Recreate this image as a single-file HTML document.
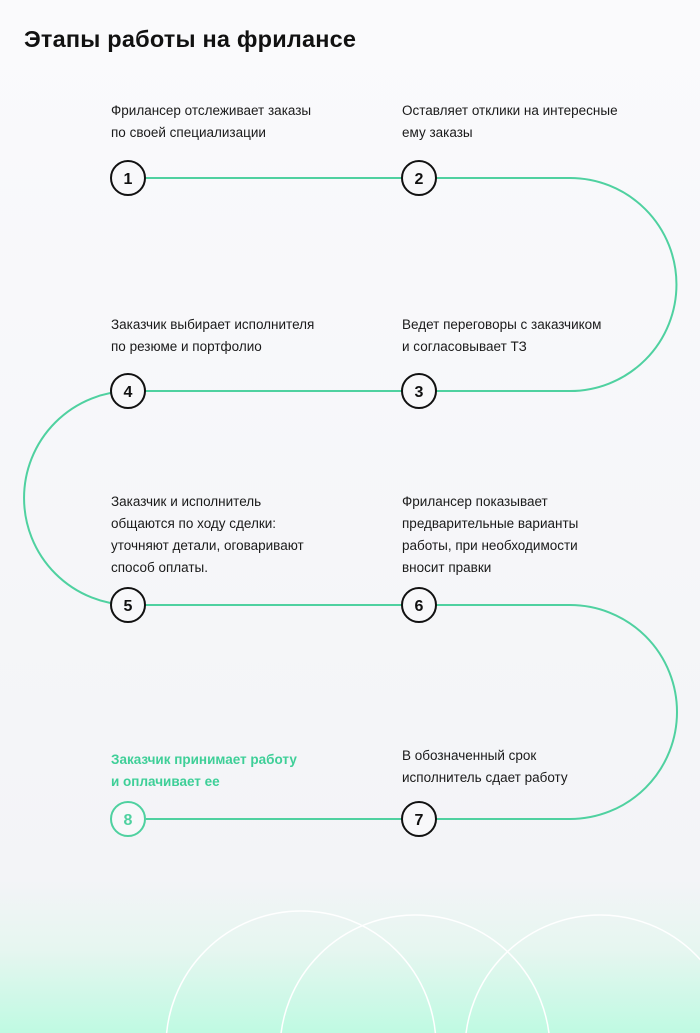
<!DOCTYPE html>
<html style="width:700px;height:1033px;overflow:hidden"><head><meta charset="utf-8"><style>
body{margin:0;width:700px;height:1033px;position:relative;overflow:hidden;font-family:"Liberation Sans",sans-serif;
background:linear-gradient(to bottom,#fafafc 0px,#f3f4f7 880px,#e6f6f0 950px,#bffae2 1033px);}
h1{position:absolute;left:24px;top:26px;margin:0;font-size:23.5px;font-weight:bold;color:#111;letter-spacing:0.2px}
.t{position:absolute;font-size:13.5px;line-height:22px;color:#1a1a1a;}
.g{color:#3ecf98;font-weight:bold;}
svg{position:absolute;left:0;top:0;display:block}
</style></head><body>
<svg width="700" height="1033">
<g fill="none" stroke="#fff" stroke-width="1.5">
<circle cx="301" cy="1046" r="135"/><circle cx="415" cy="1050" r="135"/><circle cx="600" cy="1050" r="135"/>
</g>
<path d="M146,178 H570 A106.5,106.5 0 0 1 570,391 H131 A107,107 0 0 0 131,605 H570 A107,107 0 0 1 570,819 H146" fill="none" stroke="#4fd1a0" stroke-width="2"/>
<g fill="#f8f8fa" stroke="#111" stroke-width="2">
<circle cx="128" cy="178" r="17"/><circle cx="419" cy="178" r="17"/>
<circle cx="128" cy="391" r="17"/><circle cx="419" cy="391" r="17"/>
<circle cx="128" cy="605" r="17"/><circle cx="419" cy="605" r="17"/>
<circle cx="128" cy="819" r="17" stroke="#4fd1a0"/><circle cx="419" cy="819" r="17"/>
</g>
<g font-family="Liberation Sans,sans-serif" font-size="16" font-weight="bold" text-anchor="middle" fill="#111">
<text x="128" y="184">1</text><text x="419" y="184">2</text>
<text x="128" y="397">4</text><text x="419" y="397">3</text>
<text x="128" y="611">5</text><text x="419" y="611">6</text>
<text x="128" y="825" fill="#4fd1a0">8</text><text x="419" y="825">7</text>
</g>
</svg>
<h1>Этапы работы на фрилансе</h1>
<div class="t" style="left:111px;top:100px">Фрилансер отслеживает заказы<br>по своей специализации</div>
<div class="t" style="left:402px;top:100px">Оставляет отклики на интересные<br>ему заказы</div>
<div class="t" style="left:111px;top:314px">Заказчик выбирает исполнителя<br>по резюме и портфолио</div>
<div class="t" style="left:402px;top:314px">Ведет переговоры с заказчиком<br>и согласовывает ТЗ</div>
<div class="t" style="left:111px;top:491px">Заказчик и исполнитель<br>общаются по ходу сделки:<br>уточняют детали, оговаривают<br>способ оплаты.</div>
<div class="t" style="left:402px;top:491px">Фрилансер показывает<br>предварительные варианты<br>работы, при необходимости<br>вносит правки</div>
<div class="t g" style="left:111px;top:749px">Заказчик принимает работу<br>и оплачивает ее</div>
<div class="t" style="left:402px;top:745px">В обозначенный срок<br>исполнитель сдает работу</div>
</body></html>
